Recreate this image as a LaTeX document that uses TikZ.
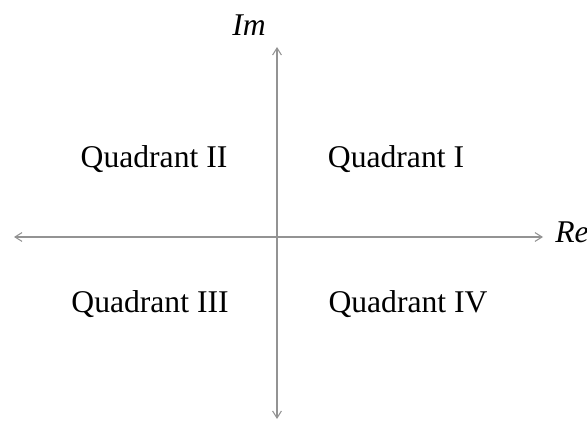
\documentclass[tikz,border=0pt]{standalone}
\usepackage{fontspec}
\setmainfont{Liberation Serif}
\usetikzlibrary{arrows.meta,positioning}
\tikzset{
  axis/.style={
    draw=gray!85,
    line width=0.6pt,
    {Straight Barb[length=4pt,width=5pt]}-{Straight Barb[length=4pt,width=5pt]}
  },
  quadlabel/.style={
    anchor=base,
    inner sep=0pt,
    font=\fontsize{18}{22}\selectfont
  },
  axislabel/.style={
    inner sep=0pt,
    font=\fontsize{18}{22}\selectfont\itshape
  }
}

\begin{document}
\begin{tikzpicture}[x=0.02cm, y=-0.02cm]
  \useasboundingbox (0,0) rectangle (587,421);

  % axis ends
  \coordinate (west) at (14,237);
  \coordinate (east) at (543,237);
  \coordinate (north) at (277,47);
  \coordinate (south) at (277,419);

  \node[axislabel, anchor=base] (im) at (249,36) {Im};
  \node[axislabel, anchor=base west] (re) at (555,243) {Re};

  \node[quadlabel] (q2) at (154,168) {Quadrant II};
  \node[quadlabel] (q1) at (396,168) {Quadrant I};
  \node[quadlabel] (q3) at (150,313) {Quadrant III};
  \node[quadlabel] (q4) at (408,313) {Quadrant IV};

  \draw[axis] (west) -- (east);
  \draw[axis] (south) -- (north);
\end{tikzpicture}
\end{document}
